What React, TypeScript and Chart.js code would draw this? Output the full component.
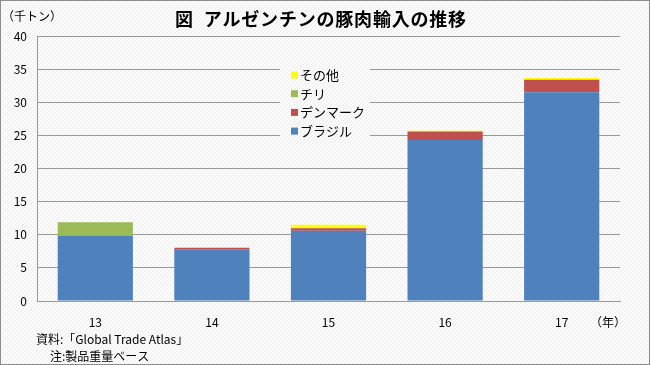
import React, { useEffect, useRef } from "react";
import { Chart, registerables } from "chart.js";

Chart.register(...registerables);

const categories = ["13", "14", "15", "16", "17"];
const brazil = [9.9, 7.8, 10.6, 24.3, 31.5];
const denmark = [0, 0.25, 0.4, 1.3, 1.9];
const chile = [2.0, 0, 0, 0, 0];
const other = [0, 0, 0.5, 0.1, 0.25];
const seriesLabels = ["ブラジル", "デンマーク", "チリ", "その他"];
const seriesColors = ["#4f81bd", "#c0504d", "#9bbb59", "#ffff00"];
const titleText = "図  アルゼンチンの豚肉輸入の推移";
const yUnit = "（千トン）";
const xUnit = "（年）";
const note1 = "資料:「Global Trade Atlas」";
const note2 = "注:製品重量ベース";

const FONT = "'Noto Sans CJK JP', 'Noto Sans', sans-serif";

function makePattern(ctx: CanvasRenderingContext2D) {
  const c = document.createElement("canvas");
  c.width = 4;
  c.height = 4;
  const p = c.getContext("2d")!;
  p.fillStyle = "#fbfbfb";
  p.fillRect(0, 0, 4, 4);
  p.fillStyle = "#ececec";
  for (let i = 0; i < 4; i++) p.fillRect(3 - i, i, 1, 1);
  return ctx.createPattern(c, "repeat");
}

export default function App() {
  const ref = useRef<HTMLCanvasElement>(null);
  useEffect(() => {
    document.body.style.margin = "0";
    const canvas = ref.current!;
    const bgPlugin = {
      id: "bg",
      beforeDraw(chart: any) {
        const ctx = chart.ctx;
        ctx.save();
        ctx.fillStyle = makePattern(ctx) || "#f7f7f7";
        ctx.fillRect(0, 0, chart.width, chart.height);
        ctx.restore();
      },
      afterDatasetsDraw(chart: any) {
        const ctx = chart.ctx;
        ctx.save();
        const lx = 280, ly = 66, lw = 90, lh = 74;
        ctx.fillStyle = makePattern(ctx) || "#f7f7f7";
        ctx.fillRect(lx, ly, lw, lh);
        ctx.font = `13px ${FONT}`;
        ctx.textBaseline = "middle";
        ctx.textAlign = "left";
        const ds = chart.data.datasets;
        for (let k = 0; k < ds.length; k++) {
          const i = ds.length - 1 - k;
          const y = 75 + k * 18.7;
          ctx.fillStyle = ds[i].backgroundColor;
          ctx.fillRect(291, y - 3.5, 7, 7);
          ctx.fillStyle = "#000";
          ctx.fillText(ds[i].label, 300, y);
        }
        ctx.restore();
      },
      afterDraw(chart: any) {
        const ctx = chart.ctx;
        ctx.save();
        ctx.fillStyle = "#000";
        ctx.textBaseline = "middle";
        ctx.font = `bold 18px ${FONT}`;
        (ctx as any).letterSpacing = "0.8px";
        ctx.textAlign = "center";
        ctx.fillText(titleText, 321, 19);
        (ctx as any).letterSpacing = "0px";
        ctx.font = `12px ${FONT}`;
        ctx.textAlign = "left";
        ctx.fillText(yUnit, 2, 16);
        ctx.fillText(xUnit, 590, 322);
        ctx.fillText(note1, 36, 339);
        ctx.fillText(note2, 50, 356);
        ctx.strokeStyle = "#8c8c8c";
        ctx.lineWidth = 1;
        ctx.strokeRect(0.5, 0.5, chart.width - 1, chart.height - 1);
        ctx.restore();
      },
    };
    const chart = new Chart(canvas, {
      type: "bar",
      data: {
        labels: categories,
        datasets: [brazil, denmark, chile, other].map((d, i) => ({
          label: seriesLabels[i],
          data: d,
          backgroundColor: seriesColors[i],
          borderWidth: 0,
          barPercentage: 0.645,
          categoryPercentage: 1,
        })),
      },
      options: {
        responsive: false,
        animation: false,
        devicePixelRatio: 1,
        layout: { padding: { top: 36, right: 30, left: 0, bottom: 0 } },
        plugins: { legend: { display: false }, title: { display: false }, tooltip: { enabled: false } },
        scales: {
          x: {
            stacked: true,
            grid: { display: false, drawTicks: false },
            border: { display: true, color: "#999" },
            ticks: { color: "#000", font: { size: 12, family: FONT }, padding: 14 },
            afterFit(s: any) { s.height = 64; },
          },
          y: {
            stacked: true,
            min: 0,
            max: 40,
            ticks: { stepSize: 5, color: "#000", font: { size: 12, family: FONT }, padding: 10 },
            grid: { color: "#999", drawTicks: false },
            border: { display: true, color: "#999" },
            afterFit(s: any) { s.width = 37; },
          },
        },
      },
      plugins: [bgPlugin],
    } as any);
    return () => chart.destroy();
  }, []);
  return (
    <div style={{ width: 650, height: 365 }}>
      <canvas ref={ref} width={650} height={365} style={{ display: "block", width: 650, height: 365 }} />
    </div>
  );
}
